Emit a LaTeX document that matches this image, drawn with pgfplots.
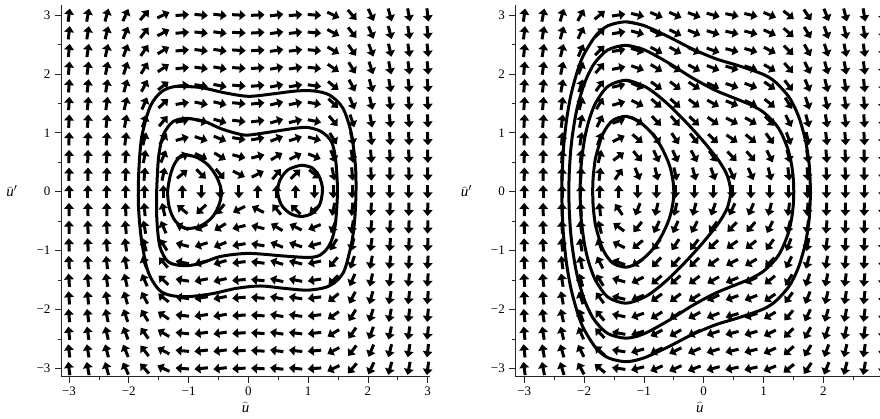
\documentclass[border=0pt]{standalone}
\usepackage{fontspec}
\setmainfont{Liberation Serif}
\usepackage{pgfplots}
\usepackage{pgfplotstable}
\pgfplotsset{compat=1.18}
\usetikzlibrary{arrows.meta}

% direction field: x, y, and the vertical component of the field (horizontal component = y)
% vL: left panel, vR: right panel
\pgfplotstableread{
x y vL vR
-3 -3 24 23
-3 -2.7 24 23
-3 -2.4 24 23
-3 -2.1 24 23
-3 -1.8 24 23
-3 -1.5 24 23
-3 -1.2 24 23
-3 -0.9 24 23
-3 -0.6 24 23
-3 -0.3 24 23
-3 0 24 23
-3 0.3 24 23
-3 0.6 24 23
-3 0.9 24 23
-3 1.2 24 23
-3 1.5 24 23
-3 1.8 24 23
-3 2.1 24 23
-3 2.4 24 23
-3 2.7 24 23
-3 3 24 23
-2.6842 -3 16.655 15.655
-2.6842 -2.7 16.655 15.655
-2.6842 -2.4 16.655 15.655
-2.6842 -2.1 16.655 15.655
-2.6842 -1.8 16.655 15.655
-2.6842 -1.5 16.655 15.655
-2.6842 -1.2 16.655 15.655
-2.6842 -0.9 16.655 15.655
-2.6842 -0.6 16.655 15.655
-2.6842 -0.3 16.655 15.655
-2.6842 0 16.655 15.655
-2.6842 0.3 16.655 15.655
-2.6842 0.6 16.655 15.655
-2.6842 0.9 16.655 15.655
-2.6842 1.2 16.655 15.655
-2.6842 1.5 16.655 15.655
-2.6842 1.8 16.655 15.655
-2.6842 2.1 16.655 15.655
-2.6842 2.4 16.655 15.655
-2.6842 2.7 16.655 15.655
-2.6842 3 16.655 15.655
-2.3684 -3 10.917 9.917
-2.3684 -2.7 10.917 9.917
-2.3684 -2.4 10.917 9.917
-2.3684 -2.1 10.917 9.917
-2.3684 -1.8 10.917 9.917
-2.3684 -1.5 10.917 9.917
-2.3684 -1.2 10.917 9.917
-2.3684 -0.9 10.917 9.917
-2.3684 -0.6 10.917 9.917
-2.3684 -0.3 10.917 9.917
-2.3684 0 10.917 9.917
-2.3684 0.3 10.917 9.917
-2.3684 0.6 10.917 9.917
-2.3684 0.9 10.917 9.917
-2.3684 1.2 10.917 9.917
-2.3684 1.5 10.917 9.917
-2.3684 1.8 10.917 9.917
-2.3684 2.1 10.917 9.917
-2.3684 2.4 10.917 9.917
-2.3684 2.7 10.917 9.917
-2.3684 3 10.917 9.917
-2.0526 -3 6.5955 5.5955
-2.0526 -2.7 6.5955 5.5955
-2.0526 -2.4 6.5955 5.5955
-2.0526 -2.1 6.5955 5.5955
-2.0526 -1.8 6.5955 5.5955
-2.0526 -1.5 6.5955 5.5955
-2.0526 -1.2 6.5955 5.5955
-2.0526 -0.9 6.5955 5.5955
-2.0526 -0.6 6.5955 5.5955
-2.0526 -0.3 6.5955 5.5955
-2.0526 0 6.5955 5.5955
-2.0526 0.3 6.5955 5.5955
-2.0526 0.6 6.5955 5.5955
-2.0526 0.9 6.5955 5.5955
-2.0526 1.2 6.5955 5.5955
-2.0526 1.5 6.5955 5.5955
-2.0526 1.8 6.5955 5.5955
-2.0526 2.1 6.5955 5.5955
-2.0526 2.4 6.5955 5.5955
-2.0526 2.7 6.5955 5.5955
-2.0526 3 6.5955 5.5955
-1.7368 -3 3.5023 2.5023
-1.7368 -2.7 3.5023 2.5023
-1.7368 -2.4 3.5023 2.5023
-1.7368 -2.1 3.5023 2.5023
-1.7368 -1.8 3.5023 2.5023
-1.7368 -1.5 3.5023 2.5023
-1.7368 -1.2 3.5023 2.5023
-1.7368 -0.9 3.5023 2.5023
-1.7368 -0.6 3.5023 2.5023
-1.7368 -0.3 3.5023 2.5023
-1.7368 0 3.5023 2.5023
-1.7368 0.3 3.5023 2.5023
-1.7368 0.6 3.5023 2.5023
-1.7368 0.9 3.5023 2.5023
-1.7368 1.2 3.5023 2.5023
-1.7368 1.5 3.5023 2.5023
-1.7368 1.8 3.5023 2.5023
-1.7368 2.1 3.5023 2.5023
-1.7368 2.4 3.5023 2.5023
-1.7368 2.7 3.5023 2.5023
-1.7368 3 3.5023 2.5023
-1.4211 -3 1.4488 0.4488
-1.4211 -2.7 1.4488 0.4488
-1.4211 -2.4 1.4488 0.4488
-1.4211 -2.1 1.4488 0.4488
-1.4211 -1.8 1.4488 0.4488
-1.4211 -1.5 1.4488 0.4488
-1.4211 -1.2 1.4488 0.4488
-1.4211 -0.9 1.4488 0.4488
-1.4211 -0.6 1.4488 0.4488
-1.4211 -0.3 1.4488 0.4488
-1.4211 0 1.4488 0.4488
-1.4211 0.3 1.4488 0.4488
-1.4211 0.6 1.4488 0.4488
-1.4211 0.9 1.4488 0.4488
-1.4211 1.2 1.4488 0.4488
-1.4211 1.5 1.4488 0.4488
-1.4211 1.8 1.4488 0.4488
-1.4211 2.1 1.4488 0.4488
-1.4211 2.4 1.4488 0.4488
-1.4211 2.7 1.4488 0.4488
-1.4211 3 1.4488 0.4488
-1.1053 -3 0.2450 -0.7550
-1.1053 -2.7 0.2450 -0.7550
-1.1053 -2.4 0.2450 -0.7550
-1.1053 -2.1 0.2450 -0.7550
-1.1053 -1.8 0.2450 -0.7550
-1.1053 -1.5 0.2450 -0.7550
-1.1053 -1.2 0.2450 -0.7550
-1.1053 -0.9 0.2450 -0.7550
-1.1053 -0.6 0.2450 -0.7550
-1.1053 -0.3 0.2450 -0.7550
-1.1053 0 0.2450 -0.7550
-1.1053 0.3 0.2450 -0.7550
-1.1053 0.6 0.2450 -0.7550
-1.1053 0.9 0.2450 -0.7550
-1.1053 1.2 0.2450 -0.7550
-1.1053 1.5 0.2450 -0.7550
-1.1053 1.8 0.2450 -0.7550
-1.1053 2.1 0.2450 -0.7550
-1.1053 2.4 0.2450 -0.7550
-1.1053 2.7 0.2450 -0.7550
-1.1053 3 0.2450 -0.7550
-0.7895 -3 -0.2974 -1.2974
-0.7895 -2.7 -0.2974 -1.2974
-0.7895 -2.4 -0.2974 -1.2974
-0.7895 -2.1 -0.2974 -1.2974
-0.7895 -1.8 -0.2974 -1.2974
-0.7895 -1.5 -0.2974 -1.2974
-0.7895 -1.2 -0.2974 -1.2974
-0.7895 -0.9 -0.2974 -1.2974
-0.7895 -0.6 -0.2974 -1.2974
-0.7895 -0.3 -0.2974 -1.2974
-0.7895 0 -0.2974 -1.2974
-0.7895 0.3 -0.2974 -1.2974
-0.7895 0.6 -0.2974 -1.2974
-0.7895 0.9 -0.2974 -1.2974
-0.7895 1.2 -0.2974 -1.2974
-0.7895 1.5 -0.2974 -1.2974
-0.7895 1.8 -0.2974 -1.2974
-0.7895 2.1 -0.2974 -1.2974
-0.7895 2.4 -0.2974 -1.2974
-0.7895 2.7 -0.2974 -1.2974
-0.7895 3 -0.2974 -1.2974
-0.4737 -3 -0.3674 -1.3674
-0.4737 -2.7 -0.3674 -1.3674
-0.4737 -2.4 -0.3674 -1.3674
-0.4737 -2.1 -0.3674 -1.3674
-0.4737 -1.8 -0.3674 -1.3674
-0.4737 -1.5 -0.3674 -1.3674
-0.4737 -1.2 -0.3674 -1.3674
-0.4737 -0.9 -0.3674 -1.3674
-0.4737 -0.6 -0.3674 -1.3674
-0.4737 -0.3 -0.3674 -1.3674
-0.4737 0 -0.3674 -1.3674
-0.4737 0.3 -0.3674 -1.3674
-0.4737 0.6 -0.3674 -1.3674
-0.4737 0.9 -0.3674 -1.3674
-0.4737 1.2 -0.3674 -1.3674
-0.4737 1.5 -0.3674 -1.3674
-0.4737 1.8 -0.3674 -1.3674
-0.4737 2.1 -0.3674 -1.3674
-0.4737 2.4 -0.3674 -1.3674
-0.4737 2.7 -0.3674 -1.3674
-0.4737 3 -0.3674 -1.3674
-0.1579 -3 -0.1540 -1.1540
-0.1579 -2.7 -0.1540 -1.1540
-0.1579 -2.4 -0.1540 -1.1540
-0.1579 -2.1 -0.1540 -1.1540
-0.1579 -1.8 -0.1540 -1.1540
-0.1579 -1.5 -0.1540 -1.1540
-0.1579 -1.2 -0.1540 -1.1540
-0.1579 -0.9 -0.1540 -1.1540
-0.1579 -0.6 -0.1540 -1.1540
-0.1579 -0.3 -0.1540 -1.1540
-0.1579 0 -0.1540 -1.1540
-0.1579 0.3 -0.1540 -1.1540
-0.1579 0.6 -0.1540 -1.1540
-0.1579 0.9 -0.1540 -1.1540
-0.1579 1.2 -0.1540 -1.1540
-0.1579 1.5 -0.1540 -1.1540
-0.1579 1.8 -0.1540 -1.1540
-0.1579 2.1 -0.1540 -1.1540
-0.1579 2.4 -0.1540 -1.1540
-0.1579 2.7 -0.1540 -1.1540
-0.1579 3 -0.1540 -1.1540
0.1579 -3 0.1540 -0.8460
0.1579 -2.7 0.1540 -0.8460
0.1579 -2.4 0.1540 -0.8460
0.1579 -2.1 0.1540 -0.8460
0.1579 -1.8 0.1540 -0.8460
0.1579 -1.5 0.1540 -0.8460
0.1579 -1.2 0.1540 -0.8460
0.1579 -0.9 0.1540 -0.8460
0.1579 -0.6 0.1540 -0.8460
0.1579 -0.3 0.1540 -0.8460
0.1579 0 0.1540 -0.8460
0.1579 0.3 0.1540 -0.8460
0.1579 0.6 0.1540 -0.8460
0.1579 0.9 0.1540 -0.8460
0.1579 1.2 0.1540 -0.8460
0.1579 1.5 0.1540 -0.8460
0.1579 1.8 0.1540 -0.8460
0.1579 2.1 0.1540 -0.8460
0.1579 2.4 0.1540 -0.8460
0.1579 2.7 0.1540 -0.8460
0.1579 3 0.1540 -0.8460
0.4737 -3 0.3674 -0.6326
0.4737 -2.7 0.3674 -0.6326
0.4737 -2.4 0.3674 -0.6326
0.4737 -2.1 0.3674 -0.6326
0.4737 -1.8 0.3674 -0.6326
0.4737 -1.5 0.3674 -0.6326
0.4737 -1.2 0.3674 -0.6326
0.4737 -0.9 0.3674 -0.6326
0.4737 -0.6 0.3674 -0.6326
0.4737 -0.3 0.3674 -0.6326
0.4737 0 0.3674 -0.6326
0.4737 0.3 0.3674 -0.6326
0.4737 0.6 0.3674 -0.6326
0.4737 0.9 0.3674 -0.6326
0.4737 1.2 0.3674 -0.6326
0.4737 1.5 0.3674 -0.6326
0.4737 1.8 0.3674 -0.6326
0.4737 2.1 0.3674 -0.6326
0.4737 2.4 0.3674 -0.6326
0.4737 2.7 0.3674 -0.6326
0.4737 3 0.3674 -0.6326
0.7895 -3 0.2974 -0.7026
0.7895 -2.7 0.2974 -0.7026
0.7895 -2.4 0.2974 -0.7026
0.7895 -2.1 0.2974 -0.7026
0.7895 -1.8 0.2974 -0.7026
0.7895 -1.5 0.2974 -0.7026
0.7895 -1.2 0.2974 -0.7026
0.7895 -0.9 0.2974 -0.7026
0.7895 -0.6 0.2974 -0.7026
0.7895 -0.3 0.2974 -0.7026
0.7895 0 0.2974 -0.7026
0.7895 0.3 0.2974 -0.7026
0.7895 0.6 0.2974 -0.7026
0.7895 0.9 0.2974 -0.7026
0.7895 1.2 0.2974 -0.7026
0.7895 1.5 0.2974 -0.7026
0.7895 1.8 0.2974 -0.7026
0.7895 2.1 0.2974 -0.7026
0.7895 2.4 0.2974 -0.7026
0.7895 2.7 0.2974 -0.7026
0.7895 3 0.2974 -0.7026
1.1053 -3 -0.2450 -1.2450
1.1053 -2.7 -0.2450 -1.2450
1.1053 -2.4 -0.2450 -1.2450
1.1053 -2.1 -0.2450 -1.2450
1.1053 -1.8 -0.2450 -1.2450
1.1053 -1.5 -0.2450 -1.2450
1.1053 -1.2 -0.2450 -1.2450
1.1053 -0.9 -0.2450 -1.2450
1.1053 -0.6 -0.2450 -1.2450
1.1053 -0.3 -0.2450 -1.2450
1.1053 0 -0.2450 -1.2450
1.1053 0.3 -0.2450 -1.2450
1.1053 0.6 -0.2450 -1.2450
1.1053 0.9 -0.2450 -1.2450
1.1053 1.2 -0.2450 -1.2450
1.1053 1.5 -0.2450 -1.2450
1.1053 1.8 -0.2450 -1.2450
1.1053 2.1 -0.2450 -1.2450
1.1053 2.4 -0.2450 -1.2450
1.1053 2.7 -0.2450 -1.2450
1.1053 3 -0.2450 -1.2450
1.4211 -3 -1.4488 -2.4488
1.4211 -2.7 -1.4488 -2.4488
1.4211 -2.4 -1.4488 -2.4488
1.4211 -2.1 -1.4488 -2.4488
1.4211 -1.8 -1.4488 -2.4488
1.4211 -1.5 -1.4488 -2.4488
1.4211 -1.2 -1.4488 -2.4488
1.4211 -0.9 -1.4488 -2.4488
1.4211 -0.6 -1.4488 -2.4488
1.4211 -0.3 -1.4488 -2.4488
1.4211 0 -1.4488 -2.4488
1.4211 0.3 -1.4488 -2.4488
1.4211 0.6 -1.4488 -2.4488
1.4211 0.9 -1.4488 -2.4488
1.4211 1.2 -1.4488 -2.4488
1.4211 1.5 -1.4488 -2.4488
1.4211 1.8 -1.4488 -2.4488
1.4211 2.1 -1.4488 -2.4488
1.4211 2.4 -1.4488 -2.4488
1.4211 2.7 -1.4488 -2.4488
1.4211 3 -1.4488 -2.4488
1.7368 -3 -3.5023 -4.5023
1.7368 -2.7 -3.5023 -4.5023
1.7368 -2.4 -3.5023 -4.5023
1.7368 -2.1 -3.5023 -4.5023
1.7368 -1.8 -3.5023 -4.5023
1.7368 -1.5 -3.5023 -4.5023
1.7368 -1.2 -3.5023 -4.5023
1.7368 -0.9 -3.5023 -4.5023
1.7368 -0.6 -3.5023 -4.5023
1.7368 -0.3 -3.5023 -4.5023
1.7368 0 -3.5023 -4.5023
1.7368 0.3 -3.5023 -4.5023
1.7368 0.6 -3.5023 -4.5023
1.7368 0.9 -3.5023 -4.5023
1.7368 1.2 -3.5023 -4.5023
1.7368 1.5 -3.5023 -4.5023
1.7368 1.8 -3.5023 -4.5023
1.7368 2.1 -3.5023 -4.5023
1.7368 2.4 -3.5023 -4.5023
1.7368 2.7 -3.5023 -4.5023
1.7368 3 -3.5023 -4.5023
2.0526 -3 -6.5955 -7.5955
2.0526 -2.7 -6.5955 -7.5955
2.0526 -2.4 -6.5955 -7.5955
2.0526 -2.1 -6.5955 -7.5955
2.0526 -1.8 -6.5955 -7.5955
2.0526 -1.5 -6.5955 -7.5955
2.0526 -1.2 -6.5955 -7.5955
2.0526 -0.9 -6.5955 -7.5955
2.0526 -0.6 -6.5955 -7.5955
2.0526 -0.3 -6.5955 -7.5955
2.0526 0 -6.5955 -7.5955
2.0526 0.3 -6.5955 -7.5955
2.0526 0.6 -6.5955 -7.5955
2.0526 0.9 -6.5955 -7.5955
2.0526 1.2 -6.5955 -7.5955
2.0526 1.5 -6.5955 -7.5955
2.0526 1.8 -6.5955 -7.5955
2.0526 2.1 -6.5955 -7.5955
2.0526 2.4 -6.5955 -7.5955
2.0526 2.7 -6.5955 -7.5955
2.0526 3 -6.5955 -7.5955
2.3684 -3 -10.917 -11.917
2.3684 -2.7 -10.917 -11.917
2.3684 -2.4 -10.917 -11.917
2.3684 -2.1 -10.917 -11.917
2.3684 -1.8 -10.917 -11.917
2.3684 -1.5 -10.917 -11.917
2.3684 -1.2 -10.917 -11.917
2.3684 -0.9 -10.917 -11.917
2.3684 -0.6 -10.917 -11.917
2.3684 -0.3 -10.917 -11.917
2.3684 0 -10.917 -11.917
2.3684 0.3 -10.917 -11.917
2.3684 0.6 -10.917 -11.917
2.3684 0.9 -10.917 -11.917
2.3684 1.2 -10.917 -11.917
2.3684 1.5 -10.917 -11.917
2.3684 1.8 -10.917 -11.917
2.3684 2.1 -10.917 -11.917
2.3684 2.4 -10.917 -11.917
2.3684 2.7 -10.917 -11.917
2.3684 3 -10.917 -11.917
2.6842 -3 -16.655 -17.655
2.6842 -2.7 -16.655 -17.655
2.6842 -2.4 -16.655 -17.655
2.6842 -2.1 -16.655 -17.655
2.6842 -1.8 -16.655 -17.655
2.6842 -1.5 -16.655 -17.655
2.6842 -1.2 -16.655 -17.655
2.6842 -0.9 -16.655 -17.655
2.6842 -0.6 -16.655 -17.655
2.6842 -0.3 -16.655 -17.655
2.6842 0 -16.655 -17.655
2.6842 0.3 -16.655 -17.655
2.6842 0.6 -16.655 -17.655
2.6842 0.9 -16.655 -17.655
2.6842 1.2 -16.655 -17.655
2.6842 1.5 -16.655 -17.655
2.6842 1.8 -16.655 -17.655
2.6842 2.1 -16.655 -17.655
2.6842 2.4 -16.655 -17.655
2.6842 2.7 -16.655 -17.655
2.6842 3 -16.655 -17.655
3 -3 -24 -25
3 -2.7 -24 -25
3 -2.4 -24 -25
3 -2.1 -24 -25
3 -1.8 -24 -25
3 -1.5 -24 -25
3 -1.2 -24 -25
3 -0.9 -24 -25
3 -0.6 -24 -25
3 -0.3 -24 -25
3 0 -24 -25
3 0.3 -24 -25
3 0.6 -24 -25
3 0.9 -24 -25
3 1.2 -24 -25
3 1.5 -24 -25
3 1.8 -24 -25
3 2.1 -24 -25
3 2.4 -24 -25
3 2.7 -24 -25
3 3 -24 -25
}\field

\pgfplotsset{
  phase/.style={
    scale only axis, width=369pt, height=371.7pt,
    ymin=-3.14, ymax=3.17,
    axis x line*=bottom, axis y line*=left,
    axis line style={-, black!85, line width=0.7pt},
    xtick={-3,-2,-1,0,1,2,3}, ytick={-3,-2,-1,0,1,2,3},
    xticklabels={−3,−2,−1,0,1,2,3}, yticklabels={−3,−2,−1,0,1,2,3},
    minor tick num=1,
    tick align=outside,
    major tick length=6pt, minor tick length=3pt,
    tick style={black!85, line width=0.7pt},
    ticklabel style={font=\fontsize{13}{15}\selectfont},
    xticklabel style={yshift=-1pt},
    yticklabel style={xshift=-1pt},
    clip=false,
    xlabel={$\widehat{\textit{u}}$},
    ylabel={$\widehat{\textit{u}}'$},
    every axis x label/.style={at={(axis description cs:0.5,0)}, anchor=center, yshift=-31pt, font=\fontsize{15}{17}\selectfont},
    every axis y label/.style={at={(axis description cs:0,0.5)}, anchor=center, xshift=-49pt, font=\fontsize{15}{17}\selectfont},
  },
  arrowstyle/.style={black, line width=3pt, -{Triangle[length=6pt,width=9.5pt]}},
  orbit/.style={black, line width=3pt, smooth, tension=0.5, line cap=round, line join=round},
}

\begin{document}
\begin{tikzpicture}
% ---------------- left panel ----------------
\begin{axis}[phase, at={(61pt,41.3pt)}, anchor=south west, xmin=-3.134, xmax=3.038]
\addplot[arrowstyle, quiver={
    u={0.226*\thisrow{y}/sqrt(\thisrow{y}^2+\thisrow{vL}^2)},
    v={0.226*\thisrow{vL}/sqrt(\thisrow{y}^2+\thisrow{vL}^2)},
    every arrow/.append style={shorten <=-6.75pt, shorten >=6.75pt}}]
  table[x=x, y=y] {\field};
% outer orbit
\addplot[orbit] coordinates {
(-1.2,1.79) (-0.8,1.77) (-0.4,1.68) (0,1.62) (0.4,1.66) (0.8,1.71) (1.1,1.71) (1.36,1.64) (1.58,1.42) (1.72,1.0) (1.79,0.45) (1.8,0) (1.78,-0.45) (1.73,-0.85) (1.59,-1.37) (1.35,-1.6) (1.0,-1.67) (0.6,-1.64) (0.2,-1.6) (-0.2,-1.64) (-0.6,-1.73) (-1.0,-1.78) (-1.3,-1.76) (-1.5,-1.66) (-1.68,-1.35) (-1.79,-0.8) (-1.84,-0.2) (-1.83,0.4) (-1.78,0.95) (-1.64,1.45) (-1.45,1.7) (-1.2,1.79) (-0.8,1.77)};
% middle orbit
\addplot[orbit] coordinates {
(-1.03,1.245) (-0.75,1.2) (-0.47,1.075) (-0.2,0.99) (0,0.962) (0.47,1.03) (0.8,1.08) (1.0,1.09) (1.22,1.02) (1.39,0.85) (1.46,0.54) (1.49,0) (1.45,-0.59) (1.36,-0.9) (1.2,-1.075) (1.0,-1.115) (0.58,-1.09) (0,-1.047) (-0.47,-1.1) (-0.81,-1.22) (-1.09,-1.256) (-1.34,-1.19) (-1.48,-0.93) (-1.53,-0.48) (-1.534,0) (-1.5,0.6) (-1.42,0.97) (-1.26,1.19) (-1.03,1.245) (-0.75,1.2)};
% left inner orbit
\addplot[orbit] coordinates {
(-1.09,0.63) (-0.88,0.59) (-0.68,0.46) (-0.53,0.25) (-0.45,0) (-0.5,-0.25) (-0.62,-0.45) (-0.82,-0.59) (-1.05,-0.62) (-1.22,-0.5) (-1.32,-0.28) (-1.35,0) (-1.3,0.3) (-1.22,0.5) (-1.09,0.63) (-0.88,0.59)};
% right inner orbit
\addplot[orbit] coordinates {
(0.89,0.45) (1.06,0.41) (1.18,0.27) (1.24,0.05) (1.2,-0.2) (1.08,-0.36) (0.89,-0.42) (0.7,-0.37) (0.55,-0.22) (0.49,0) (0.53,0.2) (0.66,0.37) (0.89,0.45) (1.06,0.41)};
\end{axis}
% ---------------- right panel ----------------
\begin{axis}[phase, at={(515.3pt,41.3pt)}, anchor=south west, xmin=-3.15, xmax=3.02]
\addplot[arrowstyle, quiver={
    u={0.226*\thisrow{y}/sqrt(\thisrow{y}^2+\thisrow{vR}^2)},
    v={0.226*\thisrow{vR}/sqrt(\thisrow{y}^2+\thisrow{vR}^2)},
    every arrow/.append style={shorten <=-6.75pt, shorten >=6.75pt}}]
  table[x=x, y=y] {\field};
\addplot[orbit] coordinates {
(-1.3,1.281) (-1.1,1.207) (-0.9,1.031) (-0.8,0.903) (-0.7,0.742) (-0.6,0.525) (-0.55,0.37) (-0.51,0.16) (-0.5,0) (-0.51,-0.16) (-0.55,-0.37) (-0.6,-0.525) (-0.7,-0.742) (-0.8,-0.903) (-0.9,-1.031) (-1.1,-1.207) (-1.3,-1.281) (-1.5,-1.224) (-1.6,-1.124) (-1.7,-0.946) (-1.8,-0.609) (-1.83,-0.424) (-1.85,-0.214) (-1.856,0) (-1.85,0.214) (-1.83,0.424) (-1.8,0.609) (-1.7,0.946) (-1.6,1.124) (-1.5,1.224) (-1.3,1.281) (-1.1,1.207)};
\addplot[orbit] coordinates {
(-1.3,1.893) (-1.0,1.794) (-0.8,1.66) (-0.6,1.488) (-0.4,1.291) (-0.2,1.077) (0,0.849) (0.2,0.599) (0.3,0.454) (0.4,0.259) (0.452,0) (0.4,-0.259) (0.3,-0.454) (0.2,-0.599) (0,-0.849) (-0.2,-1.077) (-0.4,-1.291) (-0.6,-1.488) (-0.8,-1.66) (-1.0,-1.794) (-1.3,-1.893) (-1.6,-1.79) (-1.8,-1.52) (-1.9,-1.27) (-1.95,-1.092) (-2.0,-0.849) (-2.05,-0.438) (-2.066,0) (-2.05,0.438) (-2.0,0.849) (-1.95,1.092) (-1.9,1.27) (-1.8,1.52) (-1.6,1.79) (-1.3,1.893) (-1.0,1.794)};
\addplot[orbit] coordinates {
(-1.3,2.486) (-1.0,2.412) (-0.6,2.194) (-0.2,1.939) (0.2,1.72) (0.6,1.554) (0.8,1.468) (1.0,1.349) (1.2,1.15) (1.3,0.991) (1.4,0.748) (1.45,0.559) (1.48,0.389) (1.5,0.197) (1.506,0) (1.5,-0.197) (1.48,-0.389) (1.45,-0.559) (1.4,-0.748) (1.3,-0.991) (1.2,-1.15) (1.0,-1.349) (0.8,-1.468) (0.6,-1.554) (0.2,-1.72) (-0.2,-1.939) (-0.6,-2.194) (-1.0,-2.412) (-1.3,-2.486) (-1.6,-2.409) (-1.8,-2.216) (-1.9,-2.053) (-2.0,-1.822) (-2.1,-1.485) (-2.15,-1.249) (-2.2,-0.92) (-2.23,-0.623) (-2.25,-0.261) (-2.254,0) (-2.25,0.261) (-2.23,0.623) (-2.2,0.92) (-2.15,1.249) (-2.1,1.485) (-2.0,1.822) (-1.9,2.053) (-1.8,2.216) (-1.6,2.409) (-1.3,2.486) (-1.0,2.412)};
\addplot[orbit] coordinates {
(-1.3,2.885) (-1.0,2.821) (-0.6,2.637) (-0.2,2.429) (0.2,2.258) (0.6,2.134) (1.0,1.99) (1.2,1.861) (1.4,1.643) (1.5,1.476) (1.6,1.242) (1.7,0.88) (1.75,0.577) (1.77,0.381) (1.785,0) (1.77,-0.381) (1.75,-0.577) (1.7,-0.88) (1.6,-1.242) (1.5,-1.476) (1.4,-1.643) (1.2,-1.861) (1.0,-1.99) (0.6,-2.134) (0.2,-2.258) (-0.2,-2.429) (-0.6,-2.637) (-1.0,-2.821) (-1.3,-2.885) (-1.6,-2.818) (-1.8,-2.655) (-2.0,-2.337) (-2.1,-2.085) (-2.2,-1.728) (-2.25,-1.486) (-2.3,-1.165) (-2.35,-0.658) (-2.372,0) (-2.35,0.658) (-2.3,1.165) (-2.25,1.486) (-2.2,1.728) (-2.1,2.085) (-2.0,2.337) (-1.8,2.655) (-1.6,2.818) (-1.3,2.885) (-1.0,2.821)};
\end{axis}
\pgfresetboundingbox
\useasboundingbox (0,0) rectangle (880pt,418pt);
\end{tikzpicture}
\end{document}
